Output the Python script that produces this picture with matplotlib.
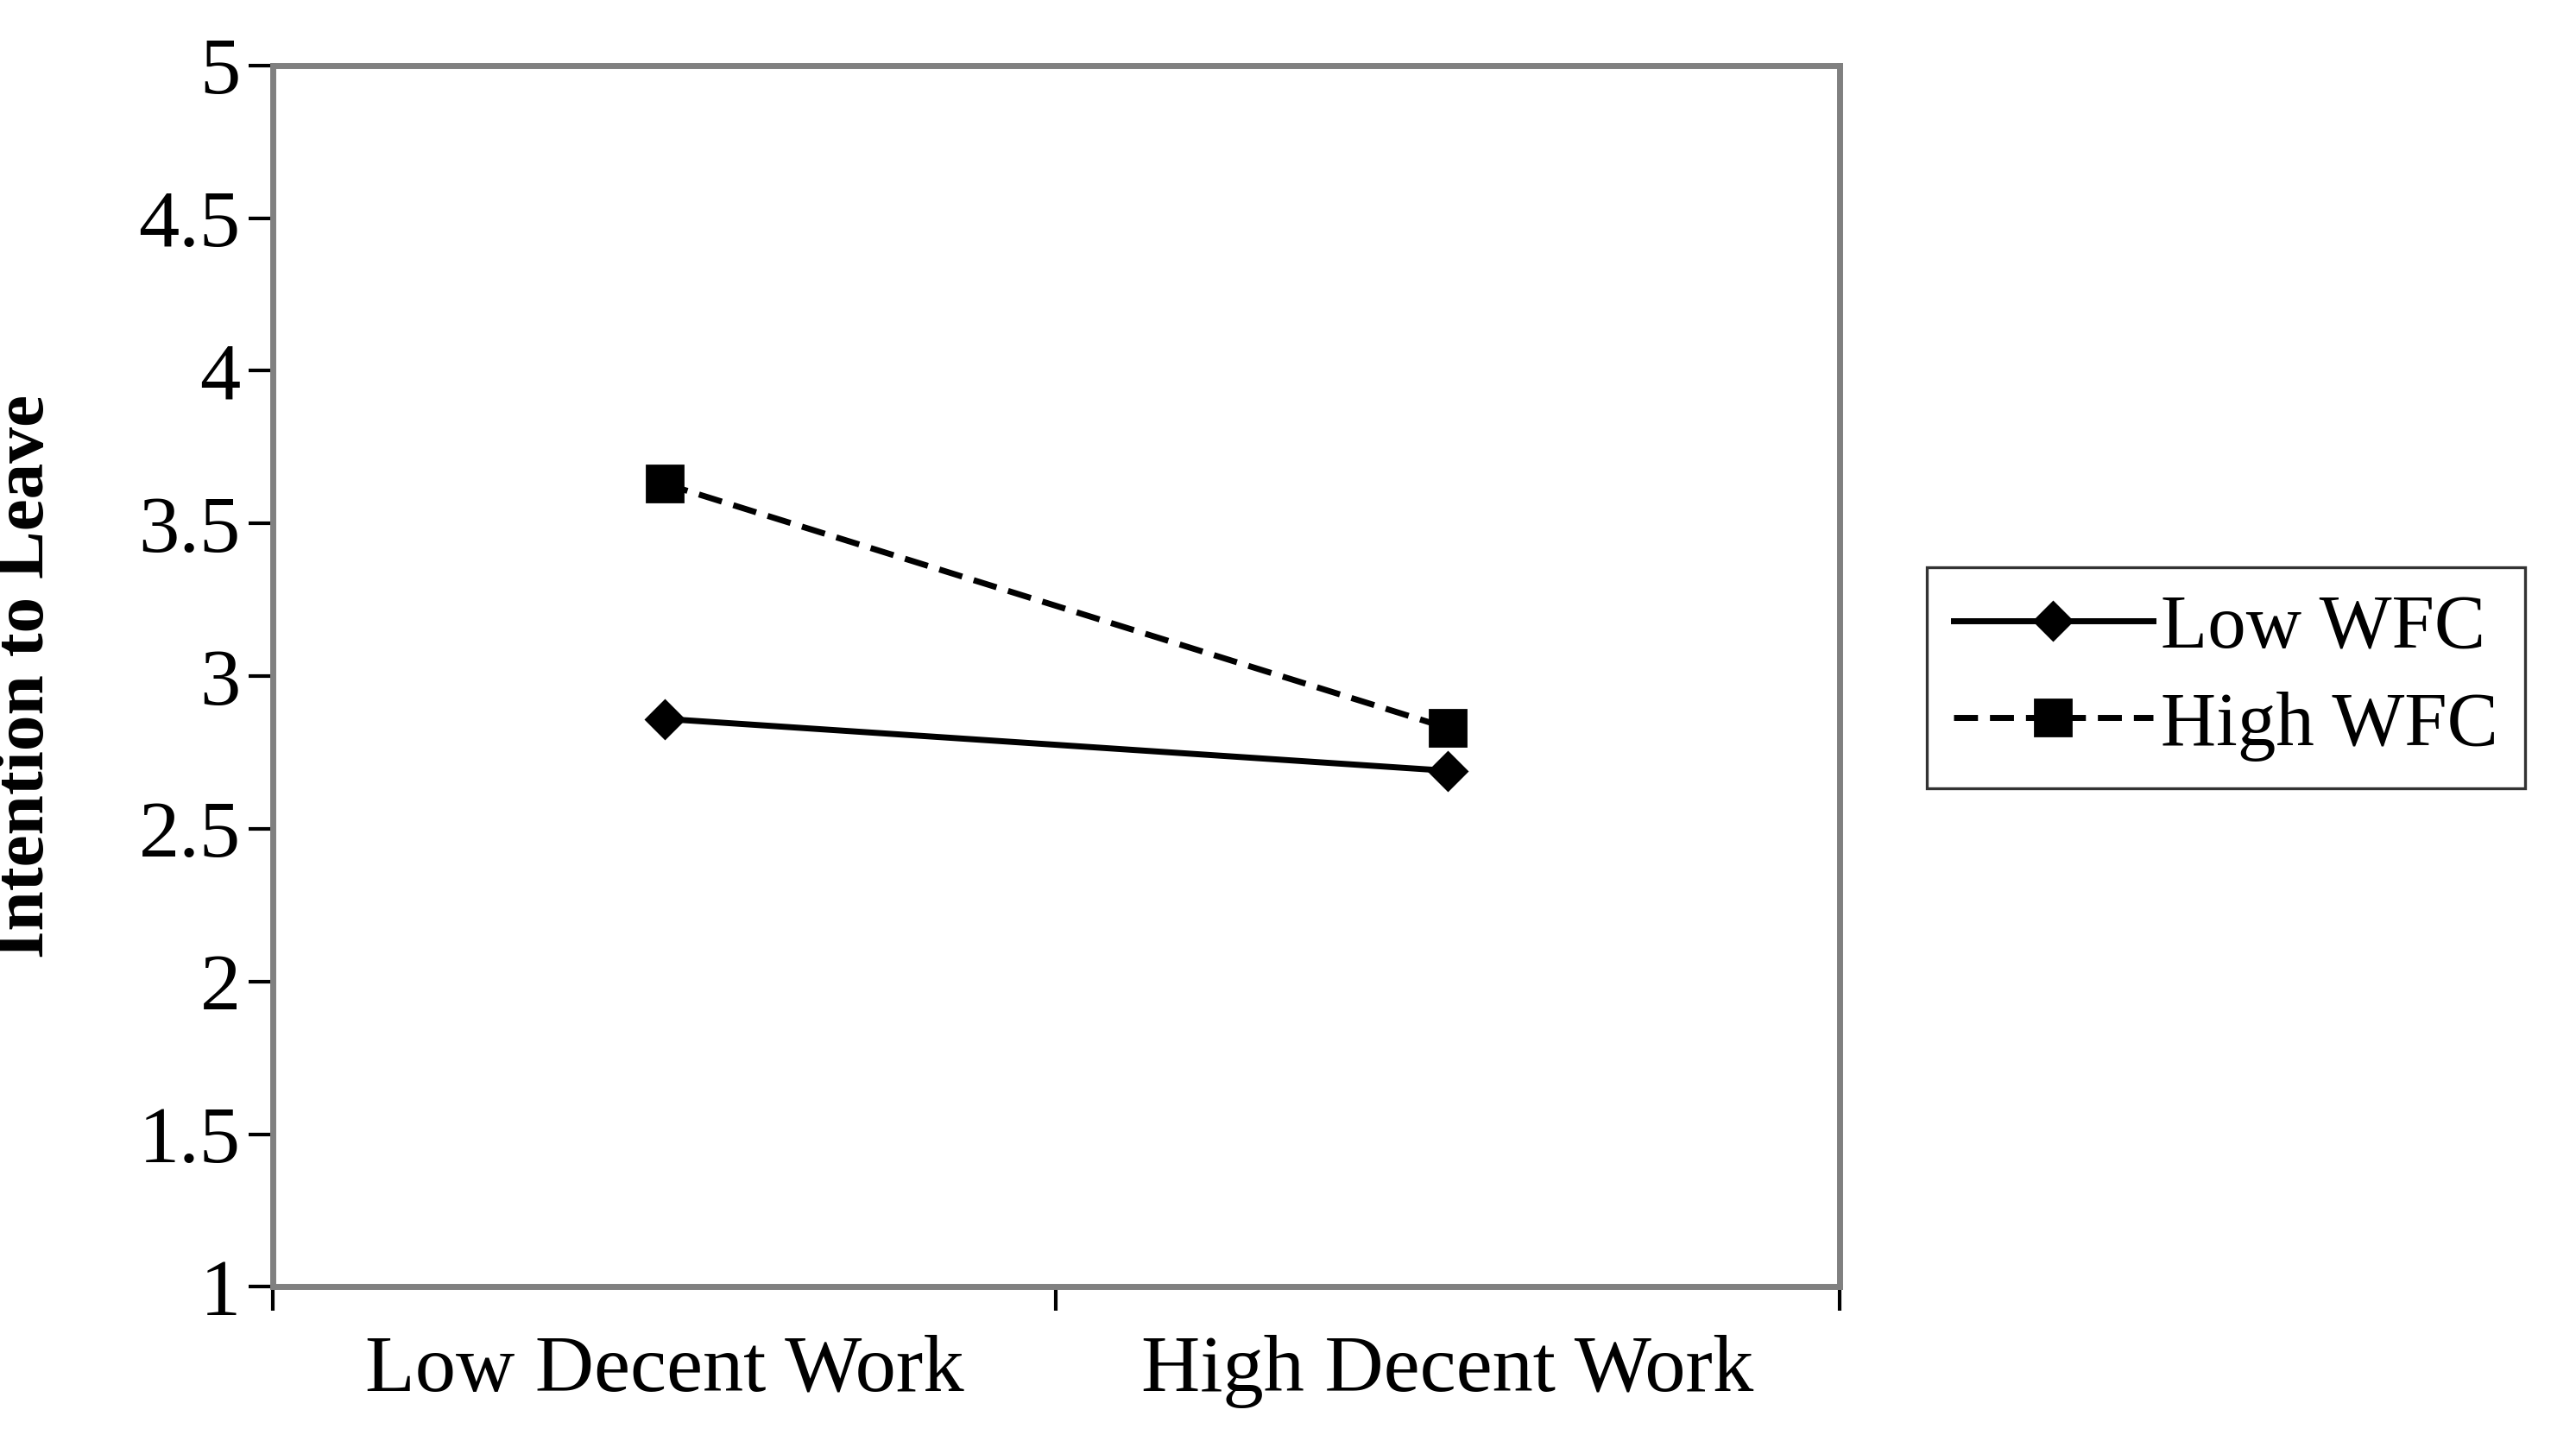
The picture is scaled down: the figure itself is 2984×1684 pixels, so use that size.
import matplotlib.pyplot as plt

categories = ["Low Decent Work", "High Decent Work"]
low_wfc = [2.86, 2.69]
high_wfc = [3.63, 2.83]
yticks = [1, 1.5, 2, 2.5, 3, 3.5, 4, 4.5, 5]
ytick_labels = ["1", "1.5", "2", "2.5", "3", "3.5", "4", "4.5", "5"]

plt.rcParams['font.family'] = ['Liberation Serif', 'DejaVu Serif']

fig = plt.figure(figsize=(14.92, 8.42), dpi=200)
ax = fig.add_axes([0.106, 0.115, 0.608, 0.84])

xpos = [0.25, 0.75]
ax.plot(xpos, low_wfc, color='black', lw=2.5, marker='D', ms=11, label='Low WFC')
ax.plot(xpos, high_wfc, color='black', lw=2.5, ls=(0, (4, 2)), marker='s', ms=15, label='High WFC')

ax.set_xlim(0, 1)
ax.set_ylim(1, 5)
ax.set_xticks([0, 0.5, 1])
ax.set_xticklabels([])
ax.set_xticks(xpos, minor=True)
ax.set_xticklabels(categories, minor=True, fontsize=34)
ax.tick_params(axis='x', which='minor', length=0, pad=20)
ax.tick_params(axis='x', which='major', length=10, width=1.5, direction='out')
ax.set_yticks(yticks)
ax.set_yticklabels(ytick_labels, fontsize=34)
ax.tick_params(axis='y', length=10, width=1.5, direction='out')
for s in ax.spines.values():
    s.set_color('#808080')
    s.set_linewidth(2.5)
ax.set_ylabel('Intention to Leave', fontsize=30, fontweight='bold')
ax.yaxis.set_label_coords(-0.137, 0.5)

leg = fig.legend(loc='center left', bbox_to_anchor=(0.733, 0.534), fontsize=32,
                 frameon=True, fancybox=False, edgecolor='black', handlelength=2.6,
                 handletextpad=0.1, borderpad=0.35, labelspacing=0.35)
leg.get_frame().set_linewidth(1.2)

fig.savefig('out.png', dpi=200)
